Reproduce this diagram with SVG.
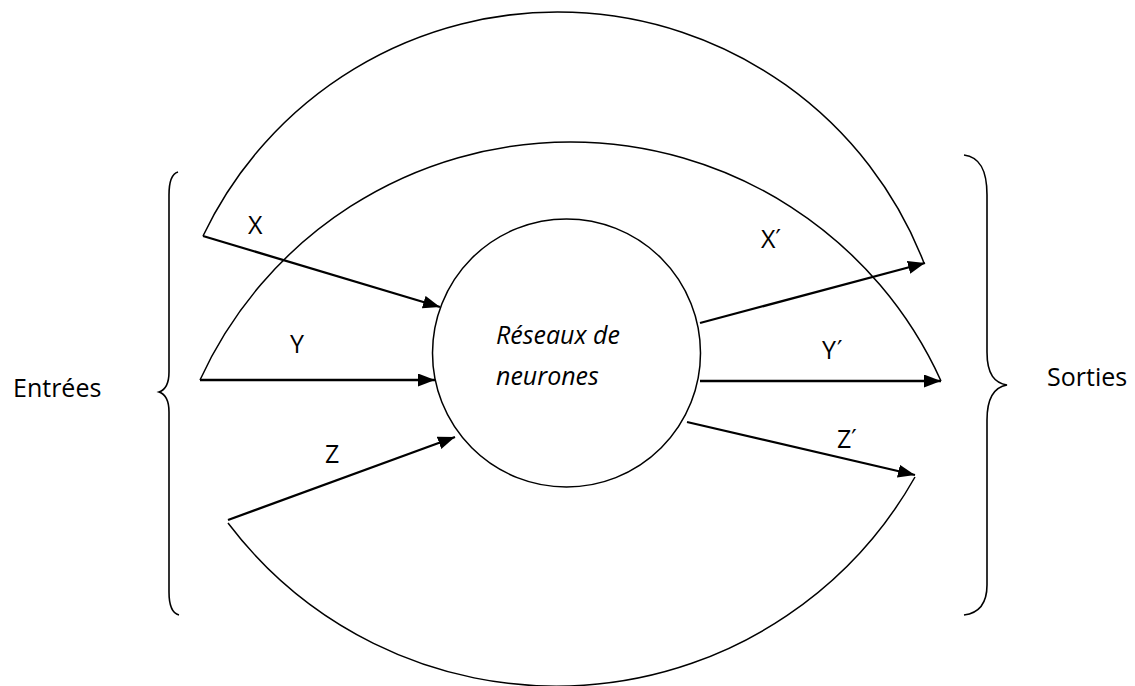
<svg xmlns="http://www.w3.org/2000/svg" width="1135" height="686" viewBox="0 0 1135 686">
<style>
.bg{fill:#fff}
.arc{fill:none;stroke:#000;stroke-width:1.5}
.brace{fill:none;stroke:#000;stroke-width:1.6}
.arrow{fill:none;stroke:#000;stroke-width:2.3;marker-end:url(#ah)}
.lbl{font-family:"Open Sans","Liberation Sans",sans-serif;font-size:25px;fill:#000}
.it{font-style:italic}
.pr{font-family:"DejaVu Sans",sans-serif;font-size:24px}
</style>
<defs>
<marker id="ah" markerUnits="userSpaceOnUse" markerWidth="18" markerHeight="14" refX="17" refY="6.5" orient="auto" viewBox="0 0 18 14">
<path d="M0,0 L17,6.5 L0,13 Z" fill="#000"/>
</marker>
</defs>
<rect class="bg" x="0" y="0" width="1135" height="686"/>
<g id="connectors">
<path id="arc-outer" class="arc" d="M203,236 A392.8,392.8 0 0 1 924,263"/>
<path id="arc-middle" class="arc" d="M200,380 A407,407 0 0 1 941,381"/>
<path id="arc-bottom" class="arc" d="M228,523 A412,412 0 0 0 915,477"/>
<line id="in-x" class="arrow" x1="203" y1="236" x2="440" y2="307"/>
<line id="in-y" class="arrow" x1="200" y1="380" x2="435" y2="380"/>
<line id="in-z" class="arrow" x1="228" y1="520" x2="455" y2="437"/>
<line id="out-x" class="arrow" x1="700" y1="323" x2="925" y2="263"/>
<line id="out-y" class="arrow" x1="700" y1="381" x2="941" y2="381"/>
<line id="out-z" class="arrow" x1="687" y1="422" x2="915" y2="475"/>
</g>
<g id="node-reseau">
<circle cx="566.5" cy="353" r="134" class="arc"/>
<text class="lbl it" x="496" y="344">Réseaux de</text>
<text class="lbl it" x="496" y="385">neurones</text>
</g>
<g id="node-entrees">
<path class="brace" d="M178,172 C171,174 169,183 169,195 L169,372 C169,385 165,390 159,392 C165,394 169,399 169,412 L169,592 C169,604 171,613 179,615"/>
<text class="lbl" x="13" y="397">Entrées</text>
</g>
<g id="node-sorties">
<path class="brace" d="M964,155 C980,157 987,170 987,195 L987,352 C987,375 995,383 1007,385 C995,387 987,397 987,420 L987,585 C987,603 980,613 964,615"/>
<text class="lbl" x="1047" y="386">Sorties</text>
</g>
<g id="labels">
<text class="lbl" x="248" y="234">X</text>
<text class="lbl" x="290" y="353">Y</text>
<text class="lbl" x="325" y="463">Z</text>
<text class="lbl" x="761" y="248">X<tspan class="pr" dy="-1.5">′</tspan></text>
<text class="lbl" x="822" y="359">Y<tspan class="pr" dx="1" dy="-1.5">′</tspan></text>
<text class="lbl" x="837" y="448">Z<tspan class="pr" dy="-1.5">′</tspan></text>
</g>
</svg>
